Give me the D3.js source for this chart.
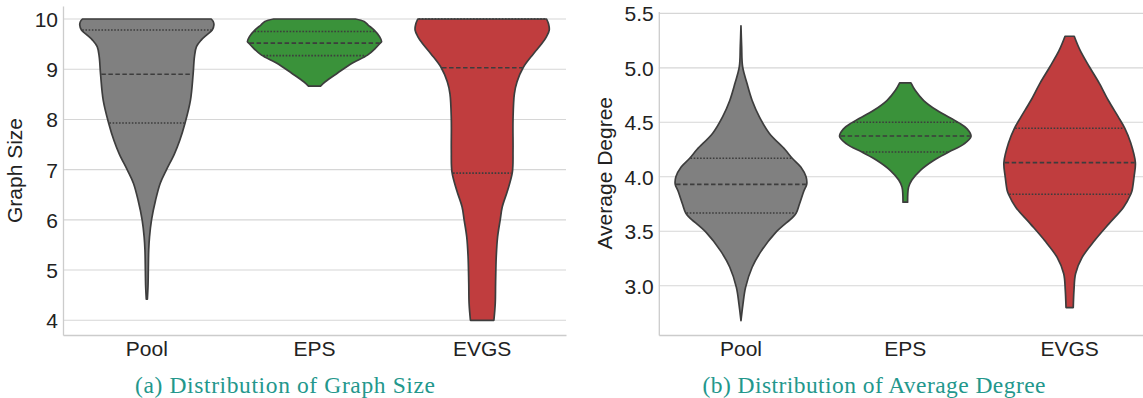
<!DOCTYPE html>
<html><head><meta charset="utf-8">
<script src="https://cdn.jsdelivr.net/npm/d3@7"></script>
<style>body{margin:0;background:#fff} svg{display:block}</style>
</head><body>
<svg id="c" width="1143" height="398"></svg>
<script>
// ---------- data ----------
const categories = ["Pool", "EPS", "EVGS"];
const fillColors = ["#808080", "#3a923a", "#c03d3e"];

// (a) Graph Size
const sizeTicks = [4, 5, 6, 7, 8, 9, 10];
const sizePoolValues = [4.42, 4.7, 5.0, 5.4, 5.66, 6.0, 6.39, 6.73, 6.99, 7.31, 7.58, 7.93, 8.38, 8.9, 9.25, 9.45, 9.58, 9.68, 9.78, 9.88, 9.95, 10.0];
const sizePoolDensity = [0.008, 0.018, 0.022, 0.028, 0.04, 0.07, 0.13, 0.20, 0.29, 0.41, 0.49, 0.57, 0.65, 0.69, 0.71, 0.74, 0.81, 0.89, 0.975, 1.0, 0.99, 0.96];
const sizeEPSValues = [8.665, 8.75, 8.92, 9.12, 9.28, 9.42, 9.52, 9.55, 9.65, 9.78, 9.88, 9.95, 10.0];
const sizeEPSDensity = [0.09, 0.16, 0.34, 0.56, 0.79, 0.91, 0.98, 1.0, 0.97, 0.89, 0.80, 0.74, 0.61];
const sizeEVGSValues = [4.0, 4.34, 4.74, 5.27, 5.66, 6.01, 6.26, 6.59, 6.95, 7.38, 8.0, 8.51, 8.75, 9.03, 9.3, 9.51, 9.65, 9.78, 9.9, 10.0];
const sizeEVGSDensity = [0.175, 0.195, 0.20, 0.21, 0.23, 0.27, 0.30, 0.38, 0.45, 0.46, 0.46, 0.48, 0.52, 0.61, 0.76, 0.89, 0.96, 1.0, 0.99, 0.96];
const sizeQuartiles = [[7.93, 8.9, 9.78], [9.27, 9.52, 9.75], [6.93, 9.03, 10.0]];

// (b) Average Degree
const degreeTicks = [3.0, 3.5, 4.0, 4.5, 5.0, 5.5];
const degPoolValues = [2.68, 2.83, 2.985, 3.17, 3.32, 3.49, 3.63, 3.667, 3.75, 3.874, 3.93, 4.0, 4.09, 4.17, 4.25, 4.40, 4.55, 4.70, 4.86, 5.01, 5.2, 5.386];
const degPoolDensity = [0, 0.03, 0.07, 0.17, 0.31, 0.53, 0.79, 0.84, 0.89, 0.96, 1.0, 0.99, 0.91, 0.78, 0.67, 0.43, 0.28, 0.17, 0.09, 0.025, 0.01, 0];
const degEPSValues = [3.767, 3.905, 3.97, 4.06, 4.15, 4.227, 4.30, 4.37, 4.44, 4.497, 4.61, 4.70, 4.794, 4.862];
const degEPSDensity = [0.035, 0.05, 0.10, 0.23, 0.43, 0.66, 0.89, 1.0, 0.94, 0.81, 0.48, 0.28, 0.15, 0.086];
const degEVGSValues = [2.80, 2.96, 3.11, 3.26, 3.415, 3.57, 3.72, 3.84, 3.874, 4.0, 4.13, 4.31, 4.445, 4.55, 4.70, 4.86, 5.01, 5.16, 5.29];
const degEVGSDensity = [0.055, 0.066, 0.09, 0.19, 0.38, 0.60, 0.82, 0.93, 0.95, 0.98, 1.0, 0.93, 0.84, 0.74, 0.59, 0.45, 0.30, 0.16, 0.07];
const degQuartiles = [[3.667, 3.93, 4.17], [4.227, 4.375, 4.50], [3.84, 4.13, 4.445]];

// ---------- layout ----------
const svg = d3.select("#c");
const BOTTOM = 335;
const textColor = "#222222";
const edgeColor = "#3d3d3d";

const panels = [
  {x0: 63, x1: 566, yTop: 6, yDomain: [3.707, 10.259], ticks: sizeTicks, fmt: d3.format("d"),
   label: "Graph Size", labelX: 22,
   profiles: [[sizePoolValues, sizePoolDensity], [sizeEPSValues, sizeEPSDensity], [sizeEVGSValues, sizeEVGSDensity]],
   quartiles: sizeQuartiles, caption: "(a) Distribution of Graph Size", capX: 285, capW: 300},
  {x0: 658.8, x1: 1151.8, yTop: 11.5, yDomain: [2.548, 5.517], ticks: degreeTicks, fmt: d3.format(".1f"),
   label: "Average Degree", labelX: 612,
   profiles: [[degPoolValues, degPoolDensity], [degEPSValues, degEPSDensity], [degEVGSValues, degEVGSDensity]],
   quartiles: degQuartiles, caption: "(b) Distribution of Average Degree", capX: 874, capW: 343}
];

panels.forEach(p => {
  const x = d3.scaleBand().domain(categories).range([p.x0, p.x1]);
  const y = d3.scaleLinear().domain(p.yDomain).range([BOTTOM, p.yTop]);
  const g = svg.append("g");

  // grid
  g.append("g").selectAll("line").data(p.ticks).join("line")
    .attr("x1", p.x0).attr("x2", p.x1)
    .attr("y1", d => y(d)).attr("y2", d => y(d))
    .attr("stroke", "#d6d6d6").attr("stroke-width", 1.1);

  // violins
  const half = x.bandwidth() * 0.4;
  categories.forEach((c, i) => {
    const [vals, dens] = p.profiles[i];
    const pts = vals.map((v, k) => ({v, w: dens[k]}));
    const cx = x(c) + x.bandwidth() / 2;
    const area = d3.area()
      .y(d => y(d.v))
      .x0(d => cx - d.w * half)
      .x1(d => cx + d.w * half)
      .curve(d3.curveCatmullRom.alpha(0.5));
    g.append("path").attr("d", area(pts))
      .attr("fill", fillColors[i]).attr("stroke", edgeColor)
      .attr("stroke-width", 1.7).attr("stroke-linejoin", "round");
    const wAt = d3.scaleLinear().domain(vals).range(dens).clamp(true);
    p.quartiles[i].forEach((q, k) => {
      const hw = wAt(q) * half - 0.8;
      g.append("line")
        .attr("x1", cx - hw).attr("x2", cx + hw)
        .attr("y1", y(q)).attr("y2", y(q))
        .attr("stroke", edgeColor).attr("stroke-width", 1.6)
        .attr("stroke-dasharray", k === 1 ? "4.5,2.5" : "1.6,1.6");
    });
  });

  // axes
  const ay = g.append("g").attr("transform", `translate(${p.x0},0)`)
    .call(d3.axisLeft(y).tickValues(p.ticks).tickFormat(p.fmt).tickSize(0).tickSizeOuter(0).tickPadding(5));
  const ax = g.append("g").attr("transform", `translate(0,${BOTTOM})`)
    .call(d3.axisBottom(x).tickSize(0).tickSizeOuter(0).tickPadding(6));
  [ay, ax].forEach(a => {
    a.select(".domain").attr("stroke", "#cccccc").attr("stroke-width", 1.3);
    a.selectAll("text").attr("font-family", "Liberation Sans, Arial, sans-serif")
      .attr("font-size", 21).attr("fill", textColor);
  });
  ay.selectAll("text").attr("dy", "0.36em");

  // y label
  g.append("text")
    .attr("transform", `translate(${p.labelX},${(BOTTOM + p.yTop) / 2}) rotate(-90)`)
    .attr("text-anchor", "middle")
    .attr("font-family", "Liberation Sans, Arial, sans-serif").attr("font-size", 21)
    .attr("fill", textColor).text(p.label);

  // caption
  const cap = g.append("text")
    .attr("x", p.capX).attr("y", 392.5).attr("text-anchor", "middle")
    .attr("font-family", "Liberation Serif, Times New Roman, serif").attr("font-size", 23.5)
    .attr("fill", "#23978c").text(p.caption);
  const len = cap.node().getComputedTextLength();
  if (Math.abs(len - p.capW) > 2) cap.attr("textLength", p.capW).attr("lengthAdjust", "spacing");
});
</script>
</body></html>
